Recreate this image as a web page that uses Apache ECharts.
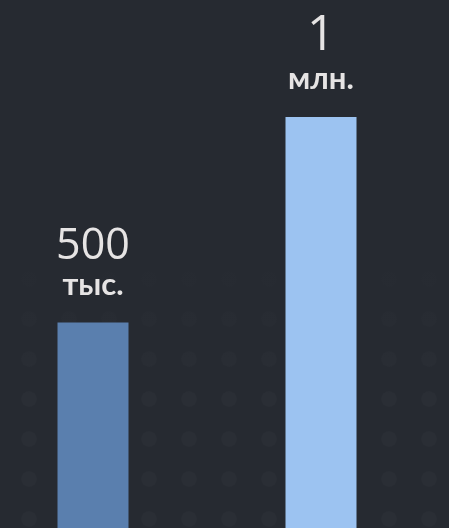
<!DOCTYPE html>
<html lang="ru">
	<head>
		<meta charset="UTF-8">
		<title>500 тыс. / 1 млн.</title>
		<style>
			html, body { margin: 0; padding: 0; background: #262a31; }
			#main { width: 449px; height: 528px; }
		</style>
	</head>
	<body>
		<div id="main"></div>
		<script src="https://cdn.jsdelivr.net/npm/echarts@6/dist/echarts.min.js"></script>
		<script type="text/javascript">
			var categories = ['500 тыс.', '1 млн.'];
			var values = [500000, 1000000];
			var numberLabels = ['500', '1'];
			var unitLabels = ['тыс.', 'млн.'];
			var barColors = ['#5a7fae', '#9cc3f1'];

			var bg = '#262a31';

			// faint dot tile for the background
			var tile = document.createElement('canvas');
			tile.width = 40;
			tile.height = 40;
			var ctx = tile.getContext('2d');
			ctx.fillStyle = 'rgba(255,255,255,0.02)';
			ctx.beginPath();
			ctx.arc(20, 20, 8, 0, Math.PI * 2);
			ctx.fill();

			var myChart = echarts.init(document.getElementById('main'));
			var option = {
				backgroundColor: bg,
				animation: false,
				graphic: [{
						type: 'rect',
						x: 9,
						y: -21,
						z: -10,
						shape: { x: 0, y: 0, width: 480, height: 560 },
						style: { fill: { image: tile, repeat: 'repeat' } },
						silent: true
					},
					{
						type: 'rect',
						z: -9,
						shape: { x: 0, y: 0, width: 449, height: 528 },
						style: {
							fill: new echarts.graphic.LinearGradient(0, 0, 0, 1, [
								{ offset: 0, color: 'rgba(38,42,49,1)' },
								{ offset: 0.48, color: 'rgba(38,42,49,1)' },
								{ offset: 0.75, color: 'rgba(38,42,49,0)' }
							])
						},
						silent: true
					}
				],
				grid: {
					left: 93,
					right: 128,
					top: 117,
					bottom: 0
				},
				xAxis: {
					type: 'category',
					data: categories,
					boundaryGap: false,
					show: false
				},
				yAxis: {
					type: 'value',
					min: 0,
					max: 1000000,
					show: false
				},
				series: [{
					type: 'bar',
					barWidth: 71,
					data: values.map(function(v, i) {
						return {
							value: v,
							itemStyle: { color: barColors[i] },
							label: {
								formatter: '{n|' + numberLabels[i] + '}\n{u|' + unitLabels[i] + '}',
								rich: {
									n: {
										fontSize: i === 0 ? 43 : 49,
										lineHeight: i === 0 ? 42 : 52,
										fontFamily: 'Open Sans',
										color: '#e6e4e4'
									},
									u: {
										fontSize: 31,
										lineHeight: 34,
										fontWeight: 'bold',
										fontFamily: 'Lato',
										color: '#e6e4e4'
									}
								}
							}
						};
					}),
					label: {
						show: true,
						position: 'top',
						distance: 21,
						align: 'center'
					}
				}]
			};
			myChart.setOption(option);
		</script>
	</body>
</html>
